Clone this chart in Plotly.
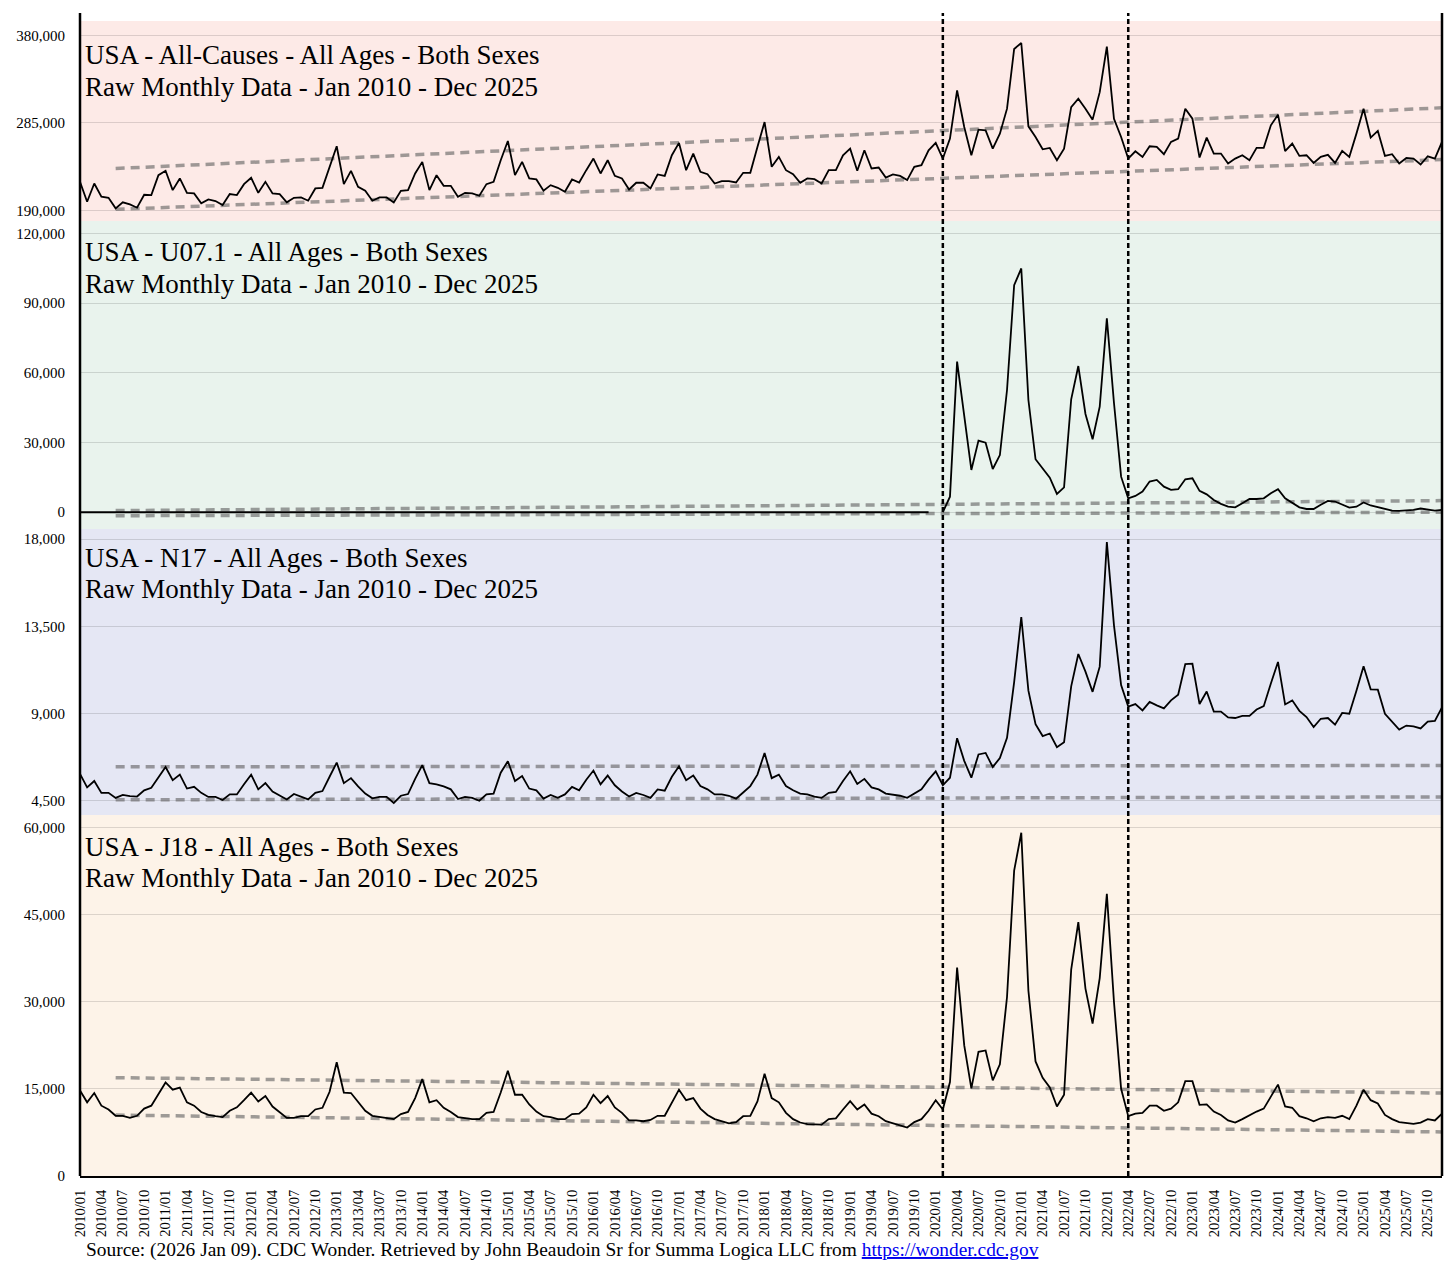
import plotly.graph_objects as go

# x categories: one per month, Jan 2010 .. Dec 2025
months = [f"{y}/{m:02d}" for y in range(2010, 2026) for m in range(1, 13)]
tick_months = months[::3]

# monthly death counts, one row per year
all_causes = [
    221000, 199400, 219200, 204800, 203700, 192200, 198700, 196500, 192900, 207000, 206600, 228300,
    233000, 212000, 224700, 209100, 208400, 197600, 201900, 200100, 195800, 207700, 206600, 218500,
    225400, 209100, 221000, 208400, 207700, 198700, 203700, 204100, 200500, 213800, 214500, 237300,
    259700, 218500, 233000, 215600, 211300, 200500, 204100, 204100, 198700, 211300, 212000, 230100,
    242700, 212000, 228300, 216700, 216700, 204800, 209100, 208400, 205900, 218500, 221000, 244500,
    265400, 228300, 242700, 224700, 223600, 211300, 217400, 214500, 210200, 223600, 220300, 233700,
    246300, 230100, 244500, 227500, 224700, 212700, 220000, 220000, 213800, 229000, 227500, 249900,
    263300, 233700, 251700, 231900, 229300, 219200, 221800, 221800, 220300, 230800, 230800, 258900,
    286000, 237300, 248100, 233700, 229300, 220000, 224700, 223900, 219200, 233700, 233700, 249900,
    257100, 233000, 255300, 235500, 236600, 225700, 229000, 227500, 222900, 237300, 239100, 255300,
    263300, 246300, 268000, 320300, 280600, 249900, 277700, 277000, 257100, 273400, 300500, 365400,
    371900, 281300, 269800, 256400, 257800, 244500, 257100, 302300, 311300, 300500, 288600, 318500,
    368000, 289600, 269800, 246300, 254200, 248100, 259700, 258900, 251000, 264400, 268000, 300500,
    289600, 247400, 269100, 251700, 251700, 240900, 246300, 249900, 244500, 257900, 257900, 282400,
    294000, 254300, 262600, 249200, 249900, 241600, 248100, 250300, 241600, 254600, 248100, 273400,
    300500, 269100, 276300, 249200, 251000, 240900, 247000, 246300, 239800, 248800, 246300, 264400,
]

u071 = [
    0, 0, 0, 0, 0, 0, 0, 0, 0, 0, 0, 0,
    0, 0, 0, 0, 0, 0, 0, 0, 0, 0, 0, 0,
    0, 0, 0, 0, 0, 0, 0, 0, 0, 0, 0, 0,
    0, 0, 0, 0, 0, 0, 0, 0, 0, 0, 0, 0,
    0, 0, 0, 0, 0, 0, 0, 0, 0, 0, 0, 0,
    0, 0, 0, 0, 0, 0, 0, 0, 0, 0, 0, 0,
    0, 0, 0, 0, 0, 0, 0, 0, 0, 0, 0, 0,
    0, 0, 0, 0, 0, 0, 0, 0, 0, 0, 0, 0,
    0, 0, 0, 0, 0, 0, 0, 0, 0, 0, 0, 0,
    0, 0, 0, 0, 0, 0, 0, 0, 0, 0, 0, 0,
    None, 0, 6700, 64800, 40400, 18200, 30800, 29900, 18600, 24600, 52600, 97700,
    104900, 48300, 22800, 18900, 14900, 7900, 10700, 48600, 62900, 42300, 31400, 45400,
    83400, 47000, 15300, 6000, 7000, 8900, 13200, 13900, 11000, 9600, 9900, 14200,
    14600, 9200, 7700, 5300, 3600, 2400, 2100, 3900, 5700, 5700, 6000, 8200,
    9900, 6000, 3900, 2100, 1400, 1400, 3200, 4900, 4600, 3200, 2000, 2400,
    4200, 2900, 2100, 1400, 700, 600, 700, 1000, 1600, 1000, 700, 1000,
]

n17 = [
    5890, 5190, 5520, 4910, 4910, 4650, 4800, 4740, 4720, 5040, 5170, 5740,
    6240, 5560, 5850, 5130, 5220, 4910, 4700, 4700, 4540, 4830, 4830, 5350,
    5850, 5090, 5410, 4980, 4780, 4570, 4850, 4700, 4570, 4910, 5000, 5740,
    6470, 5410, 5670, 5240, 4870, 4630, 4700, 4700, 4390, 4760, 4850, 5630,
    6340, 5410, 5350, 5240, 5090, 4590, 4700, 4650, 4500, 4830, 4870, 5950,
    6540, 5520, 5780, 5130, 5040, 4610, 4800, 4650, 4830, 5220, 5040, 5590,
    6060, 5350, 5800, 5300, 4980, 4720, 4910, 4800, 4650, 5090, 5020, 5740,
    6280, 5560, 5800, 5260, 5090, 4830, 4830, 4760, 4610, 4930, 5260, 5850,
    6970, 5670, 5850, 5260, 5040, 4870, 4830, 4720, 4650, 4910, 4960, 5520,
    6020, 5370, 5630, 5190, 5090, 4870, 4800, 4760, 4650, 4870, 5090, 5590,
    6020, 5300, 5690, 7730, 6560, 5690, 6890, 6970, 6240, 6710, 7750, 10620,
    13980, 10180, 8450, 7840, 7970, 7260, 7520, 10400, 12070, 11160, 10120, 11420,
    17840, 13550, 10470, 9360, 9490, 9160, 9600, 9420, 9270, 9680, 9970, 11550,
    11570, 9490, 10140, 9100, 9100, 8800, 8770, 8880, 8880, 9210, 9380, 10550,
    11660, 9470, 9680, 9140, 8820, 8300, 8730, 8770, 8430, 9030, 8990, 10180,
    11440, 10250, 10230, 8990, 8600, 8170, 8380, 8340, 8230, 8580, 8620, 9320,
]

j18 = [
    14740, 12700, 14300, 12120, 11470, 10380, 10380, 10020, 10380, 11620, 12120, 14010,
    16120, 14880, 15250, 12700, 12120, 11040, 10530, 10310, 10160, 11250, 11830, 13070,
    14380, 12850, 13790, 11980, 11040, 10020, 10020, 10310, 10310, 11470, 11760, 14520,
    19600, 14380, 14300, 12850, 11250, 10380, 10160, 10020, 9800, 10670, 11040, 13430,
    16700, 12700, 13070, 11760, 11040, 10160, 10020, 9800, 9800, 10890, 11040, 14380,
    18150, 14010, 14010, 12340, 11110, 10310, 10160, 9800, 9800, 10670, 10750, 11830,
    14010, 12560, 13790, 11830, 10890, 9580, 9580, 9440, 9660, 10380, 10380, 12700,
    14880, 13070, 13430, 11620, 10530, 9800, 9440, 9080, 9290, 10310, 10380, 12850,
    17640, 13430, 12700, 10890, 9800, 9220, 8930, 8860, 8860, 9800, 9950, 11470,
    12920, 11470, 12340, 10750, 10310, 9440, 9080, 8710, 8350, 9290, 9800, 11250,
    13070, 11470, 16190, 35940, 22510, 15100, 21420, 21640, 16480, 19240, 30860, 52640,
    59170, 31940, 19750, 16920, 15250, 11980, 14010, 35570, 43780, 32310, 26280, 34120,
    48640, 30000, 15030, 10310, 10750, 10890, 12120, 12120, 11250, 11620, 12700, 16340,
    16340, 12270, 12340, 11110, 10530, 9580, 9220, 9800, 10530, 11110, 11620, 13790,
    15750, 11980, 11760, 10310, 9950, 9440, 9950, 10160, 10020, 10380, 9800, 12120,
    14880, 13070, 12490, 10530, 9800, 9290, 9080, 9000, 9220, 9800, 9580, 10750,
]

# trend bands (start / end values), drawn from 2010/06 to 2025/12
trend_months = ["2010/06", "2025/12"]
all_causes_upper = [235500, 301500]
all_causes_lower = [191100, 245200]
u071_upper = [700, 5000]
u071_lower = [-1500, 0]
n17_upper = [6250, 6320]
n17_lower = [4550, 4700]
j18_upper = [16950, 14300]
j18_lower = [10500, 7600]

# marked months (vertical dotted lines)
marker_months = ["2020/02", "2022/04"]

panel_titles = [
    "USA - All-Causes - All Ages - Both Sexes",
    "USA - U07.1 - All Ages - Both Sexes",
    "USA - N17 - All Ages - Both Sexes",
    "USA - J18 - All Ages - Both Sexes",
]
subtitle = "Raw Monthly Data - Jan 2010 - Dec 2025"

panels = [
    dict(y=all_causes, up=all_causes_upper, lo=all_causes_lower, bg="#fdeae7",
         domain=[0.8268, 1.0], rng=[178400, 395800], ticks=[190000, 285000, 380000], title_dy=34),
    dict(y=u071, up=u071_upper, lo=u071_lower, bg="#e9f3ed",
         domain=[0.5602, 0.8268], rng=[-7200, 125300], ticks=[0, 30000, 60000, 90000, 120000], title_dy=31),
    dict(y=n17, up=n17_upper, lo=n17_lower, bg="#e5e7f4",
         domain=[0.3126, 0.5602], rng=[3770, 18520], ticks=[4500, 9000, 13500, 18000], title_dy=29),
    dict(y=j18, up=j18_upper, lo=j18_lower, bg="#fdf3e8",
         domain=[0.0, 0.3126], rng=[0, 62240], ticks=[0, 15000, 30000, 45000, 60000], title_dy=32),
]

serif = "Liberation Serif, Times New Roman, serif"
trend_style = dict(color="rgba(95,95,95,0.6)", width=3.5, dash="9px,6px")
title_font = dict(family=serif, size=27, color="black")

fig = go.Figure()
shapes = []
annotations = []

for n, p in enumerate(panels, start=1):
    yname = "y" if n == 1 else f"y{n}"
    #trend bands first so the data line sits on top
    for band in (p["up"], p["lo"]):
        fig.add_trace(go.Scatter(x=trend_months, y=band, mode="lines", yaxis=yname,
                                 line=trend_style, hoverinfo="skip", showlegend=False))
    fig.add_trace(go.Scatter(x=months, y=p["y"], mode="lines", yaxis=yname,
                             line=dict(color="black", width=1.8), showlegend=False))

    axis_key = "yaxis" if n == 1 else f"yaxis{n}"
    fig.layout[axis_key] = dict(
        domain=p["domain"], range=p["rng"], anchor="x", automargin=False,
        tickvals=p["ticks"], tickformat=",d",
        showgrid=True, gridcolor="rgba(0,0,0,0.13)", gridwidth=1, zeroline=False,
        ticks="outside", ticklen=11, tickcolor="rgba(0,0,0,0)",
        tickfont=dict(family=serif, size=15, color="black"), showline=False,
    )

    shapes.append(dict(type="rect", xref="x domain", yref=f"{yname} domain",
                       x0=0, x1=1, y0=0, y1=1, fillcolor=p["bg"],
                       line=dict(width=0), layer="below"))
    # two title lines as separate annotations (tighter line spacing than plotly's <br>)
    for text, dy in ((panel_titles[n - 1], p["title_dy"]), (subtitle, p["title_dy"] + 31.5)):
        annotations.append(dict(text=text, xref="paper", x=0.0022, xanchor="left",
                                yref=f"{yname} domain", y=1, yanchor="middle", yshift=-dy,
                                showarrow=False, font=title_font))

for m in marker_months:
    shapes.append(dict(type="line", xref="x", yref="paper", x0=m, x1=m, y0=0, y1=1.007,
                       line=dict(color="black", width=2.5, dash="5px,3px")))

#frame lines left and right
for xp in (0, 1):
    shapes.append(dict(type="line", xref="paper", yref="paper", x0=xp, x1=xp, y0=0, y1=1.007,
                       line=dict(color="black", width=2.5)))

annotations.append(dict(
    text='Source: (2026 Jan 09). CDC Wonder. Retrieved by John Beaudoin Sr for Summa Logica LLC from '
         '<a href="https://wonder.cdc.gov"><span style="color:#0000EE;text-decoration:underline">'
         'https://wonder.cdc.gov</span></a>',
    xref="paper", yref="paper", x=0.003, y=-0.064, xanchor="left", yanchor="middle",
    showarrow=False, font=dict(family=serif, size=19.4, color="black")))

# the page puts the figure 8px in from the top left, margins allow for that
fig.update_layout(
    width=1456, height=1276,
    margin=dict(l=72, r=22, t=13, b=108, autoexpand=False),
    paper_bgcolor="white", plot_bgcolor="white",
    showlegend=False,
    xaxis=dict(type="category", categoryorder="array", categoryarray=months,
               range=[0, 191], anchor="y4", automargin=False,
               tickmode="array", tickvals=tick_months, ticktext=tick_months, tickangle=-90,
               tickfont=dict(family=serif, size=14.5, color="black"),
               ticks="outside", ticklen=6, tickcolor="rgba(0,0,0,0)",
               showgrid=False, showline=True, linecolor="black", linewidth=2, zeroline=False),
    shapes=shapes,
    annotations=annotations,
)

fig.write_html("out.html")
